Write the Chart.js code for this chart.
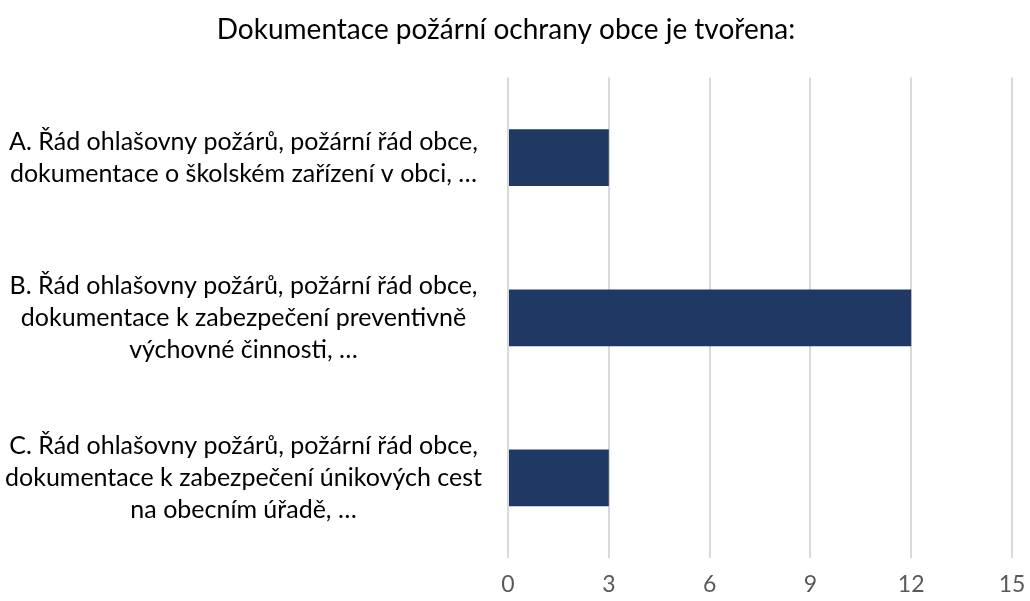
<!DOCTYPE html>
<html>
<head>
<meta charset="utf-8">
<script src="https://cdn.jsdelivr.net/npm/chart.js@4"></script>
<style>
  html, body { margin: 0; padding: 0; background: #fff; }
  #wrap { width: 1030px; height: 601px; }
</style>
</head>
<body>
<div id="wrap"><canvas id="chart"></canvas></div>
<script>
const chartTitle = 'Dokumentace požární ochrany obce je tvořena:';
const categories = [
    ['A. Řád ohlašovny požárů, požární řád obce,', 'dokumentace o školském zařízení v obci, …'],
    ['B. Řád ohlašovny požárů, požární řád obce,', 'dokumentace k zabezpečení preventivně', 'výchovné činnosti, …'],
    ['C. Řád ohlašovny požárů, požární řád obce,', 'dokumentace k zabezpečení únikových cest', 'na obecním úřadě, …']
];
const counts = [3, 12, 3];
const xTicks = [0, 3, 6, 9, 12, 15];

const fontFamily = 'Lato, "Open Sans", sans-serif';

const ctx = document.getElementById('chart');
new Chart(ctx, {
    type: 'bar',
    data: {
        labels: categories,
        datasets: [{
            data: counts,
            backgroundColor: '#203864',
            categoryPercentage: 1,
            barPercentage: 0.355
        }]
    },
    options: {
        indexAxis: 'y',
        responsive: true,
        maintainAspectRatio: false,
        animation: false,
        layout: {
            padding: { left: 0, right: 18, top: 0, bottom: 2 }
        },
        plugins: {
            legend: { display: false },
            tooltip: { enabled: false },
            title: {
                display: true,
                text: chartTitle,
                color: '#000',
                font: { family: fontFamily, size: 28, weight: 'normal', lineHeight: 1.2 },
                padding: { top: 13, bottom: 31 }
            }
        },
        scales: {
            x: {
                min: 0,
                max: 15,
                afterBuildTicks: function(axis) {
                    axis.ticks = xTicks.map(v => ({ value: v }));
                },
                afterFit: function(axis) {
                    axis.height = 41;
                    axis.paddingLeft = 0;
                    axis.paddingRight = 0;
                },
                grid: { color: '#d9d9d9', lineWidth: 2, drawTicks: false },
                border: { display: false },
                ticks: {
                    color: '#595959',
                    padding: 13,
                    font: { family: fontFamily, size: 23, lineHeight: 1.2 }
                }
            },
            y: {
                grid: { display: false, drawTicks: false },
                border: { display: false },
                afterFit: function(axis) {
                    axis.width = 508;
                    // tall wrapped labels should not shrink the plot area
                    axis.paddingTop = 0;
                    axis.paddingBottom = 0;
                },
                ticks: {
                    crossAlign: 'center',
                    padding: 26,
                    color: '#000',
                    font: { family: fontFamily, size: 25, lineHeight: 1.28 }
                }
            }
        }
    }
});
</script>
</body>
</html>
